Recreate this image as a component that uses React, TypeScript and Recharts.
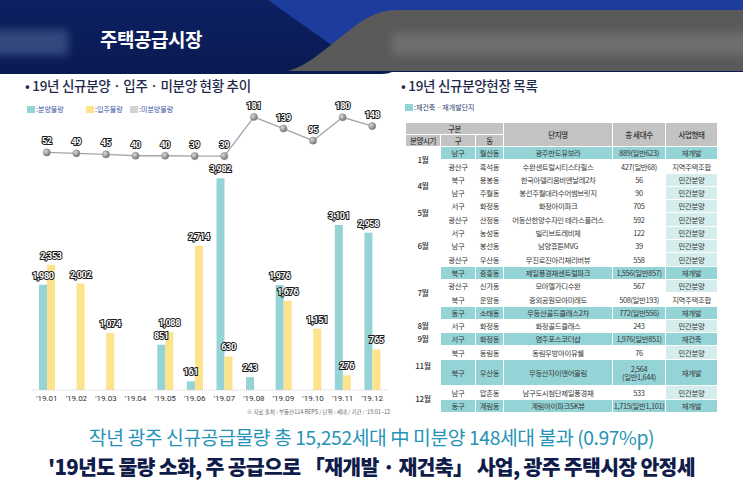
import React from "react";
import { ComposedChart, Bar, Line, XAxis, YAxis, LabelList } from "recharts";

// 월별 공급 현황 (단위: 세대)
const MONTHS = ["'19.01", "'19.02", "'19.03", "'19.04", "'19.05", "'19.06", "'19.07", "'19.08", "'19.09", "'19.10", "'19.11", "'19.12"];
const SUPPLY = [1980, 0, 0, 0, 851, 161, 3982, 243, 1976, 0, 3101, 2958];
const MOVE_IN = [2353, 2002, 1074, 0, 1088, 2714, 630, 0, 1676, 1151, 276, 765];
const UNSOLD = [52, 49, 45, 40, 40, 39, 39, 181, 139, 95, 180, 148];

// 신규분양현장 목록
const PERIODS = ["1월", "4월", "5월", "6월", "7월", "8월", "9월", "11월", "12월"];
const PERIOD_SPANS = [2, 2, 2, 3, 4, 1, 1, 2, 2];
const GU = ["남구", "광산구", "북구", "남구", "서구", "광산구", "서구", "남구", "광산구", "북구", "광산구", "북구", "동구", "서구", "서구", "북구", "북구", "남구", "동구"];
const DONG = ["월산동", "흑석동", "용봉동", "주월동", "화정동", "산정동", "농성동", "봉선동", "우산동", "중흥동", "신가동", "운암동", "소태동", "화정동", "화정동", "동림동", "우산동", "압촌동", "계림동"];
const SITE_NAMES = ["광주반도유보라", "수완센트럴시티스타힐스", "한국아델리움비엔날레2차", "봉선주월대라수어썸브릿지", "화정아이파크", "어등산한양수자인 테라스플러스", "빌리브트레비체", "남양휴튼MVG", "무진로진아리채리버뷰", "제일풍경채센트럴파크", "모아엘가디수완", "중외공원모아미래도", "무등산골드클래스2차", "화정골드클래스", "염주포스코더샵", "동림우방아이유쉘", "무등산자이앤어울림", "남구도시첨단제일풍경채", "계림아이파크SK뷰"];
const UNITS = ["889(일반623)", "427(일반68)", "56", "90", "705", "592", "122", "39", "558", "1,556(일반857)", "567", "508(일반193)", "772(일반556)", "243", "1,976(일반851)", "76", "2,564\n(일반1,644)", "533", "1,715(일반1,101)"];
const BIZ_TYPES = ["재개발", "지역주택조합", "민간분양", "민간분양", "민간분양", "민간분양", "민간분양", "민간분양", "민간분양", "재개발", "민간분양", "지역주택조합", "재개발", "민간분양", "재건축", "민간분양", "재개발", "민간분양", "재개발"];

const FONT = '"Noto Sans CJK KR", "Noto Sans", sans-serif';
const TEAL = "#94d4d6";
const YELLOW = "#fde38b";
const GREY = "#d3d3d3";
const LIGHT_TEAL = "#d5eded";

const chartData = MONTHS.map((month, i) => ({
  month,
  supply: SUPPLY[i],
  moveIn: MOVE_IN[i],
  unsold: UNSOLD[i],
}));

const OUTLINED = {
  fill: "#ffffff",
  stroke: "#1b1b1b",
  strokeWidth: 2,
  paintOrder: "stroke",
  fontSize: 9,
  fontWeight: 700,
  fontFamily: "Roboto, sans-serif",
  letterSpacing: -0.3,
} as const;

const barLabel = (props: any) => {
  const { x, y, width, value } = props;
  if (!value) return null;
  return (
    <text x={x + width / 2} y={y - 6} textAnchor="middle" style={OUTLINED}>
      {value.toLocaleString("en-US")}
    </text>
  );
};

const lineLabel = (props: any) => {
  const { x, y, value } = props;
  return (
    <text x={x} y={y - 8} textAnchor="middle" style={OUTLINED}>
      {value}
    </text>
  );
};

const greyDot = (props: any) => {
  const { cx, cy, index } = props;
  return <circle key={`dot-${index}`} cx={cx} cy={cy} r={3.6} fill="url(#dotFill)" stroke="#8a8a8a" strokeWidth={0.5} />;
};

const Header = () => (
  <svg width={743} height={76} style={{ position: "absolute", left: 0, top: 0 }}>
    <defs>
      <filter id="soft" x="-20%" y="-50%" width="140%" height="200%">
        <feGaussianBlur stdDeviation="4" />
      </filter>
      <linearGradient id="navy" x1="0" y1="0" x2="0" y2="1">
        <stop offset="0%" stopColor="#0c2062" />
        <stop offset="100%" stopColor="#0a1a52" />
      </linearGradient>
    </defs>
    <path d="M0,0 H743 V72 H392 Q388,74 382,74 H0 Z" fill="url(#navy)" />
    <path d="M268,0 L743,0 L743,44 L330,44 Z" fill="#1c3c9e" />
    <path d="M743,10 L398,10 C374,10 360,22 342,36 C322,52 306,66 288,71 L743,71 Z" fill="#5a5a5a" />
    <rect x={-10} y={30} width={78} height={25} fill="#34497f" filter="url(#soft)" />
    <rect x={392} y={33} width={370} height={22} fill="#6e6e6e" filter="url(#soft)" />
    <text x={100} y={47} fill="#ffffff" fontSize={19} fontWeight={700} fontFamily={FONT} letterSpacing={-0.5}>
      주택공급시장
    </text>
  </svg>
);

const LegendItem = ({ color, label, left }: { color: string; label: string; left: number }) => (
  <div style={{ position: "absolute", left, top: 104, display: "flex", alignItems: "center", fontSize: 7, color: "#3c55a5", fontFamily: FONT }}>
    <span style={{ width: 8, height: 7, background: color, display: "inline-block", marginRight: 1 }} />
    {label}
  </div>
);

const SupplyChart = () => (
  <div style={{ position: "absolute", left: 0, top: 95 }}>
    <ComposedChart
      width={400}
      height={320}
      data={chartData}
      margin={{ top: 11, right: 13, left: 32, bottom: 0 }}
      barGap={0}
      barSize={8}
    >
      <defs>
        <radialGradient id="dotFill" cx="35%" cy="35%" r="70%">
          <stop offset="0%" stopColor="#dcdcdc" />
          <stop offset="100%" stopColor="#6e6e6e" />
        </radialGradient>
      </defs>
      <XAxis
        dataKey="month"
        height={25}
        interval={0}
        tickLine={false}
        tickSize={3}
        axisLine={{ stroke: "#cfcfcf", strokeDasharray: "1 1" }}
        tick={{ fontSize: 8, fill: "#333", fontFamily: "Roboto, sans-serif" }}
      />
      <YAxis yAxisId="bar" hide domain={[0, 5340]} allowDataOverflow />
      <YAxis yAxisId="line" hide domain={[-812, 221]} allowDataOverflow />
      <Bar yAxisId="bar" dataKey="supply" fill={TEAL} isAnimationActive={false}>
        <LabelList dataKey="supply" content={barLabel} />
      </Bar>
      <Bar yAxisId="bar" dataKey="moveIn" fill={YELLOW} isAnimationActive={false}>
        <LabelList dataKey="moveIn" content={barLabel} />
      </Bar>
      <Line
        yAxisId="line"
        dataKey="unsold"
        type="linear"
        stroke="#a6a6a6"
        strokeWidth={1.3}
        dot={greyDot}
        activeDot={false}
        isAnimationActive={false}
      >
        <LabelList dataKey="unsold" content={lineLabel} />
      </Line>
    </ComposedChart>
  </div>
);

const cell = (extra: React.CSSProperties = {}): React.CSSProperties => ({
  border: "1px solid #ffffff",
  padding: 0,
  textAlign: "center",
  verticalAlign: "middle",
  whiteSpace: "nowrap",
  overflow: "hidden",
  ...extra,
});

const SiteTable = () => {
  const periodStart: Record<number, number> = {};
  let r = 0;
  PERIODS.forEach((_, i) => {
    periodStart[r] = i;
    r += PERIOD_SPANS[i];
  });
  const head = cell({ background: "#c3c3c3", color: "#333", fontSize: 7.5, fontWeight: 500, height: 11 });
  return (
    <table
      style={{
        position: "absolute",
        left: 405,
        top: 122,
        width: 312,
        tableLayout: "fixed",
        borderCollapse: "collapse",
        fontFamily: FONT,
        fontSize: 7.4,
        color: "#383838",
        lineHeight: 1.05,
        letterSpacing: -0.35,
      }}
    >
      <colgroup>
        <col style={{ width: 35 }} />
        <col style={{ width: 35 }} />
        <col style={{ width: 28 }} />
        <col style={{ width: 109 }} />
        <col style={{ width: 53 }} />
        <col style={{ width: 52 }} />
      </colgroup>
      <thead>
        <tr>
          <th colSpan={3} style={head}>구분</th>
          <th rowSpan={2} style={head}>단지명</th>
          <th rowSpan={2} style={head}>총 세대수</th>
          <th rowSpan={2} style={head}>사업형태</th>
        </tr>
        <tr>
          <th style={head}>분양시기</th>
          <th style={head}>구</th>
          <th style={head}>동</th>
        </tr>
      </thead>
      <tbody>
        {SITE_NAMES.map((name, i) => {
          const type = BIZ_TYPES[i];
          const teal = type === "재개발" || type === "재건축";
          const bg = teal ? TEAL : "#ffffff";
          const typeBg = teal ? TEAL : type === "민간분양" ? LIGHT_TEAL : "#ffffff";
          const h = UNITS[i].includes("\n") ? 26.6 : 13.3;
          const p = periodStart[i];
          return (
            <tr key={name} style={{ height: h }}>
              {p !== undefined && (
                <td rowSpan={PERIOD_SPANS[p]} style={cell({ background: "#fff", fontSize: 8, fontWeight: 500, color: "#333" })}>
                  {PERIODS[p]}
                </td>
              )}
              <td style={cell({ background: bg })}>{GU[i]}</td>
              <td style={cell({ background: bg })}>{DONG[i]}</td>
              <td style={cell({ background: bg })}>{name}</td>
              <td style={cell({ background: bg, whiteSpace: "pre-line" })}>{UNITS[i]}</td>
              <td style={cell({ background: typeBg })}>{type}</td>
            </tr>
          );
        })}
      </tbody>
    </table>
  );
};

export default function App() {
  return (
    <div style={{ position: "absolute", left: 0, top: 0, width: 743, height: 487, background: "#fff", overflow: "hidden", fontFamily: FONT }}>
      <Header />
      <div style={{ position: "absolute", left: 25, top: 75, fontSize: 13.5, fontWeight: 500, color: "#1f2a4a", letterSpacing: -0.3 }}>
        • 19년 신규분양 · 입주 · 미분양 현황 추이
      </div>
      <div style={{ position: "absolute", left: 401, top: 75, fontSize: 13.5, fontWeight: 500, color: "#1f2a4a", letterSpacing: -0.3 }}>
        • 19년 신규분양현장 목록
      </div>

      <LegendItem color={TEAL} label=":분양물량" left={27} />
      <LegendItem color={YELLOW} label=":입주물량" left={86} />
      <LegendItem color={GREY} label=":미분양물량" left={130} />
      <SupplyChart />
      <div style={{ position: "absolute", right: 353, top: 408, fontSize: 5.5, color: "#666", whiteSpace: "nowrap" }}>
        ※ 자료 출처 : 부동산114 REPS / 단위 : 세대 / 기간 : '19.01~12
      </div>

      <div style={{ position: "absolute", left: 405, top: 102, display: "flex", alignItems: "center", fontSize: 7, color: "#2b3a6b" }}>
        <span style={{ width: 8, height: 7, background: TEAL, display: "inline-block", marginRight: 1 }} />
        :재건축 · 재개발단지
      </div>
      <SiteTable />

      <div style={{ position: "absolute", left: 0, top: 423, width: 743, textAlign: "center", fontSize: 19.3, color: "#2593b8", letterSpacing: -0.4, whiteSpace: "nowrap" }}>
        작년 광주 신규공급물량 총 15,252세대 中 미분양 148세대 불과 (0.97%p)
      </div>
      <div style={{ position: "absolute", left: 0, top: 451, width: 743, textAlign: "center", fontSize: 20.5, fontWeight: 900, color: "#101c4a", letterSpacing: -0.7, whiteSpace: "nowrap" }}>
        '19년도 물량 소화, 주 공급으로 「재개발 · 재건축」 사업, 광주 주택시장 안정세
      </div>
    </div>
  );
}
